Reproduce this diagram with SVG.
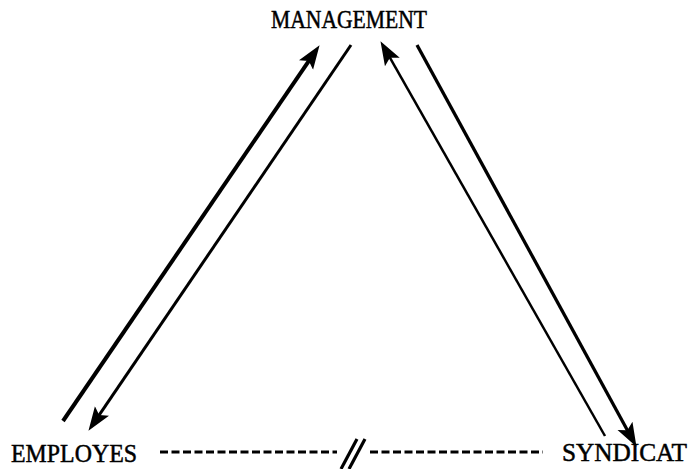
<svg xmlns="http://www.w3.org/2000/svg" width="690" height="469" viewBox="0 0 690 469">
  <style>
    .lbl { font-family: "Liberation Serif", "Times New Roman", serif; font-size: 26px; fill: #000; stroke: #000; stroke-width: 0.5; }
    .arr { fill: none; stroke: #000; stroke-linecap: butt; }
    .dash { fill: none; stroke: #000; stroke-width: 3; stroke-dasharray: 8 3.5; }
    .slash { fill: none; stroke: #000; stroke-width: 3.2; }
  </style>
  <defs>
    <marker id="head" viewBox="0 -10 24 20" markerWidth="24" markerHeight="20" markerUnits="userSpaceOnUse" refX="9" refY="0" orient="auto">
      <path d="M24,0 L0,-8.5 L5,0 L0,8.5 Z" fill="#000"/>
    </marker>
  </defs>
  <rect width="690" height="469" fill="#fff"/>

  <g id="management">
    <text class="lbl" x="271" y="28" textLength="156" lengthAdjust="spacingAndGlyphs">MANAGEMENT</text>
  </g>
  <g id="employes">
    <text class="lbl" x="11" y="462" textLength="126" lengthAdjust="spacingAndGlyphs">EMPLOYES</text>
  </g>
  <g id="syndicat">
    <text class="lbl" x="562" y="461" textLength="125" lengthAdjust="spacingAndGlyphs">SYNDICAT</text>
  </g>

  <g id="connectors">
    <line class="arr" x1="63" y1="421" x2="311.1" y2="57.6" stroke-width="4" marker-end="url(#head)"/>
    <line class="arr" x1="351" y1="45" x2="96.9" y2="418.4" stroke-width="3" marker-end="url(#head)"/>
    <line class="arr" x1="605" y1="436" x2="387.9" y2="54.2" stroke-width="2.5" marker-end="url(#head)"/>
    <line class="arr" x1="417" y1="45" x2="629.3" y2="433.7" stroke-width="3.3" marker-end="url(#head)"/>
    <line class="dash" x1="160" y1="452" x2="337" y2="452"/>
    <line class="dash" x1="370" y1="452" x2="543" y2="452"/>
    <line class="slash" x1="341" y1="469" x2="357" y2="439"/>
    <line class="slash" x1="349" y1="469" x2="365" y2="439"/>
  </g>
</svg>
